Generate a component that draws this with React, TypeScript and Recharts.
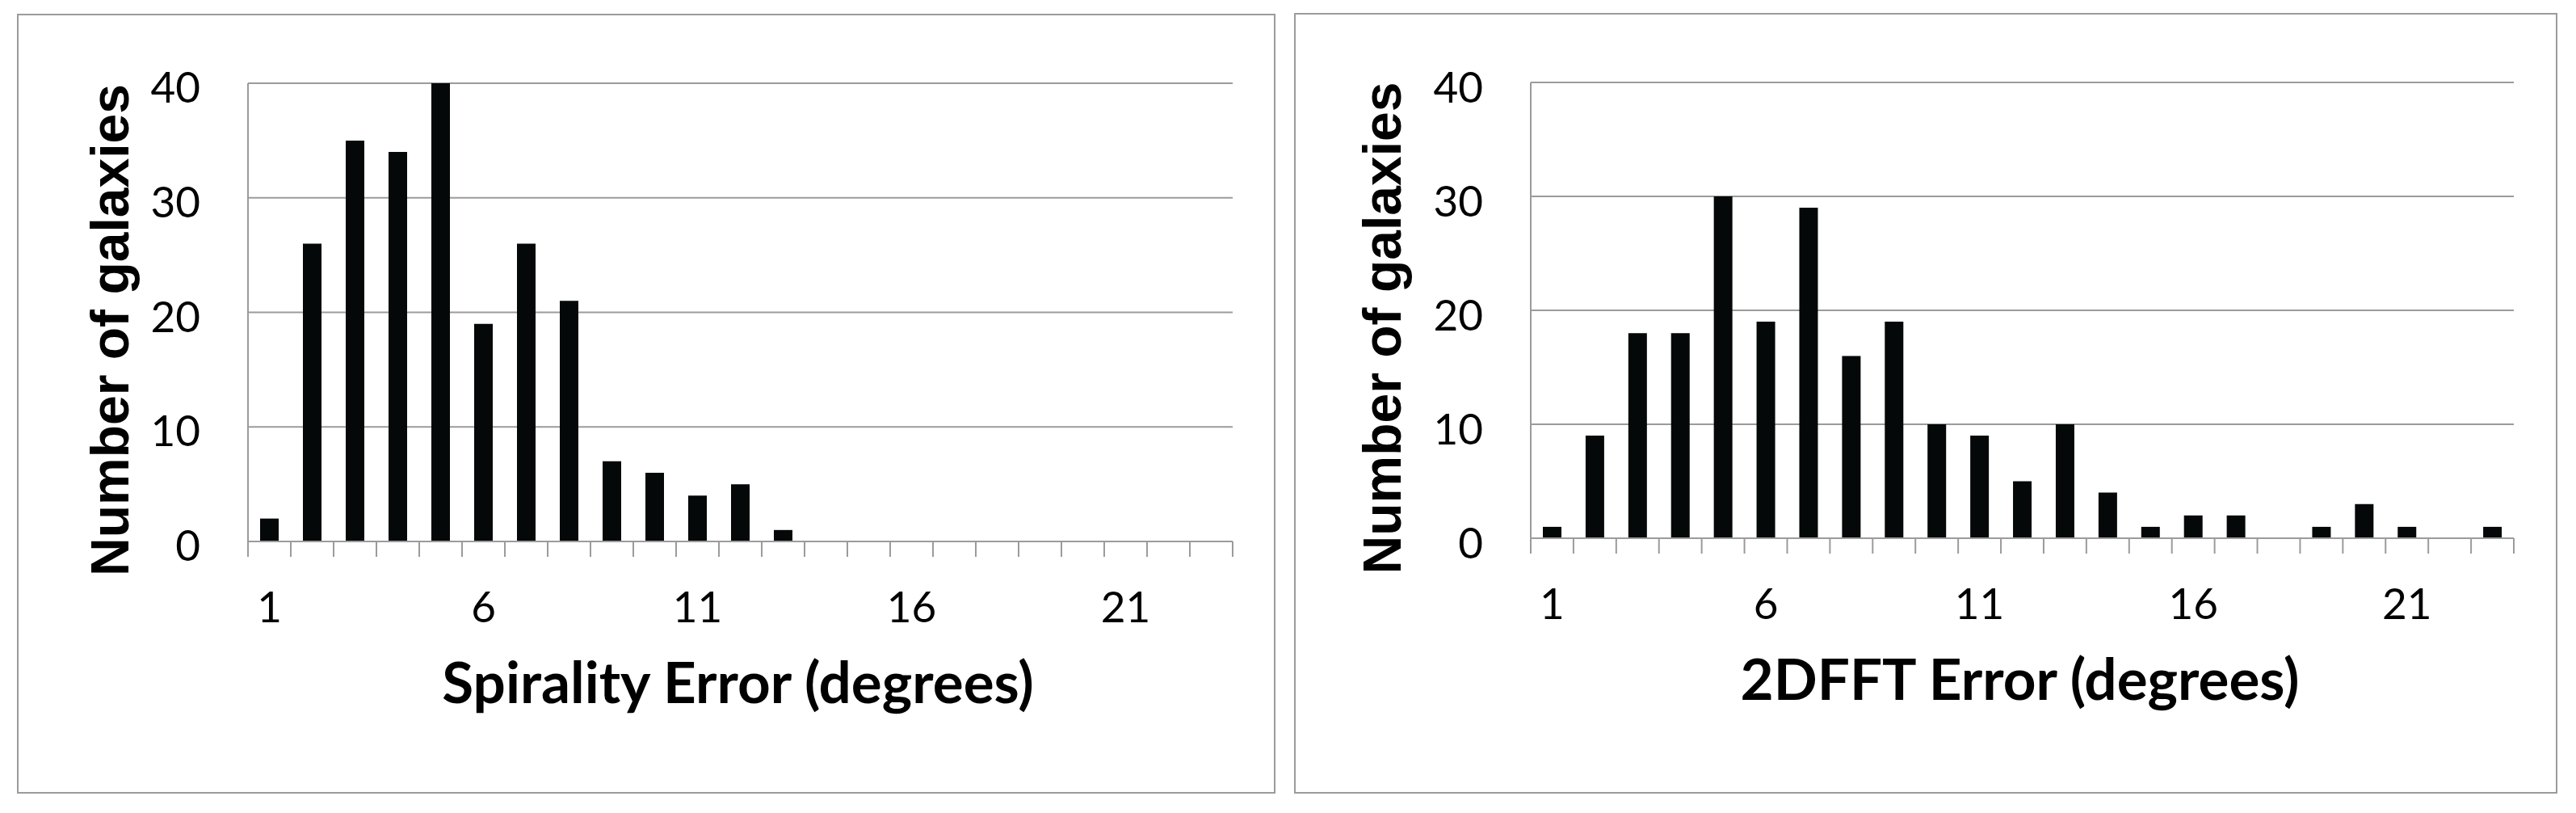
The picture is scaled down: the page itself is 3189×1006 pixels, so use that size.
import React from 'react';
import { BarChart, Bar, XAxis, YAxis, CartesianGrid } from 'recharts';

// ---- Data ----
const categories = [1, 2, 3, 4, 5, 6, 7, 8, 9, 10, 11, 12, 13, 14, 15, 16, 17, 18, 19, 20, 21, 22, 23];
const spiralityCounts = [2, 26, 35, 34, 40, 19, 26, 21, 7, 6, 4, 5, 1, 0, 0, 0, 0, 0, 0, 0, 0, 0, 0];
const fftCounts = [1, 9, 18, 18, 30, 19, 29, 16, 19, 10, 9, 5, 10, 4, 1, 2, 2, 0, 1, 3, 1, 0, 1];
const xTickLabels = [1, 6, 11, 16, 21];
const yTicks = [0, 10, 20, 30, 40];
const yTitle = 'Number of galaxies';
const leftXTitle = 'Spirality Error (degrees)';
const rightXTitle = '2DFFT Error (degrees)';

// bin boundaries (half-way between categories) for the tick marks
const binEdges = [...categories.map((c) => c - 0.5), categories[categories.length - 1] + 0.5];
const xTicks = [...binEdges, ...xTickLabels].sort((a, b) => a - b);
const xDomain = [binEdges[0], binEdges[binEdges.length - 1]];

const spiralityData = categories.map((c, i) => ({ bin: c, count: spiralityCounts[i] }));
const fftData = categories.map((c, i) => ({ bin: c, count: fftCounts[i] }));

const GRID = '#9b9b9b';
const BAR = '#050808';

type PanelProps = {
  data: { bin: number; count: number }[];
  xTitle: string;
  left: number;
  top: number;
  width: number;
  height: number;
  marginTop: number;
  marginRight: number;
  yAxisWidth: number;
  xAxisHeight: number;
  yTitleGap: number;
  yTickBaseline: number;
};

function Panel(p: PanelProps) {
  const XTick = (props: any) => {
    const { x, y, payload } = props;
    const v = payload.value;
    if (xTickLabels.includes(v)) {
      return (
        <text x={x} y={y + 100} textAnchor="middle" fontFamily="Lato" fontSize={53} fill="#000">
          {v}
        </text>
      );
    }
    return <line x1={x} y1={y} x2={x} y2={y + 19} stroke={GRID} strokeWidth={2} />;
  };

  const YTick = (props: any) => {
    const { x, y, payload } = props;
    return (
      <text x={x} y={y + p.yTickBaseline} textAnchor="end" fontFamily="Lato" fontSize={53} fill="#000">
        {payload.value}
      </text>
    );
  };

  const XTitle = (props: any) => {
    const vb = props.viewBox || {};
    return (
      <text
        x={vb.x + vb.width / 2 - 3}
        y={vb.y + 200}
        textAnchor="middle"
        fontFamily="Lato"
        fontWeight="bold"
        fontSize={71}
        fill="#000"
      >
        {p.xTitle}
      </text>
    );
  };

  const YTitle = (props: any) => {
    const vb = props.viewBox || {};
    const cx = vb.x + vb.width - p.yTitleGap;
    const cy = vb.y + vb.height / 2 + 22;
    return (
      <text
        x={cx}
        y={cy}
        transform={`rotate(-90, ${cx}, ${cy})`}
        textAnchor="middle"
        fontFamily="Liberation Sans"
        fontWeight="bold"
        fontSize={66}
        fill="#000"
      >
        {yTitle}
      </text>
    );
  };

  return (
    <div
      style={{
        position: 'absolute',
        left: p.left,
        top: p.top,
        width: p.width,
        height: p.height,
        boxSizing: 'border-box',
        border: `2px solid ${GRID}`,
        background: '#fff',
      }}
    >
      <div style={{ position: 'absolute', left: -2, top: -2 }}>
        <BarChart
          width={p.width}
          height={p.height}
          data={p.data}
          margin={{ top: p.marginTop, right: p.marginRight, left: 0, bottom: 0 }}
        >
          <CartesianGrid vertical={false} stroke={GRID} strokeWidth={2} />
          <XAxis
            dataKey="bin"
            type="number"
            domain={xDomain}
            allowDataOverflow
            ticks={xTicks}
            interval={0}
            height={p.xAxisHeight}
            tickSize={0}
            tickMargin={0}
            tickLine={false}
            axisLine={{ stroke: GRID, strokeWidth: 2 }}
            tick={XTick}
            label={XTitle}
          />
          <YAxis
            domain={[0, 40]}
            ticks={yTicks}
            interval={0}
            width={p.yAxisWidth}
            tickSize={0}
            tickMargin={59}
            tickLine={false}
            axisLine={{ stroke: GRID, strokeWidth: 2 }}
            tick={YTick}
            label={YTitle}
          />
          <Bar dataKey="count" fill={BAR} barSize={23} isAnimationActive={false} />
        </BarChart>
      </div>
    </div>
  );
}

export default function App() {
  return (
    <div style={{ position: 'absolute', left: 0, top: 0, width: 3189, height: 1006, background: '#fff' }}>
      <Panel
        data={spiralityData}
        xTitle={leftXTitle}
        left={21}
        top={17}
        width={1558}
        height={965}
        marginTop={86}
        marginRight={53}
        yAxisWidth={286}
        xAxisHeight={312}
        yTitleGap={148}
        yTickBaseline={24}
      />
      <Panel
        data={fftData}
        xTitle={rightXTitle}
        left={1602}
        top={16}
        width={1564}
        height={966}
        marginTop={86}
        marginRight={54}
        yAxisWidth={293}
        xAxisHeight={316}
        yTitleGap={161}
        yTickBaseline={25}
      />
    </div>
  );
}
